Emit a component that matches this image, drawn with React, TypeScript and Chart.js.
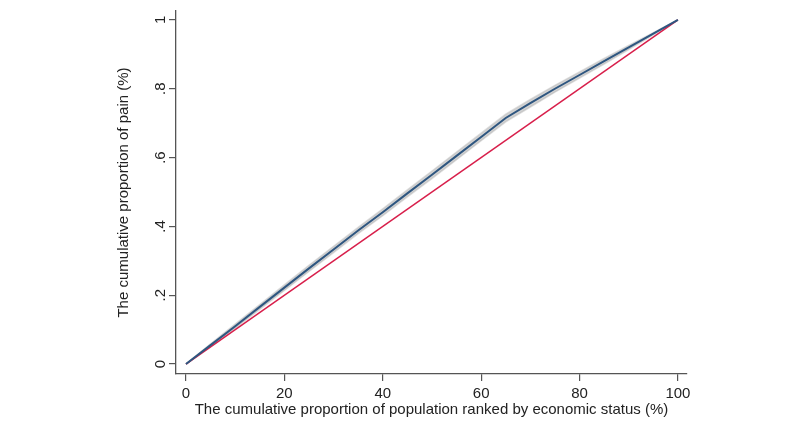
import React, { useEffect, useRef } from "react";
import { Chart, registerables } from "chart.js";

Chart.register(...registerables);

// Cumulative share of the population, ranked by economic status (%)
const popShare = [0, 5, 10, 15, 20, 25, 30, 35, 40, 45, 50, 55, 60, 65, 70, 75, 80, 85, 90, 95, 100];
// Concentration curve: cumulative share of pain
const painShare = [0, 0.055, 0.11, 0.166, 0.222, 0.278, 0.333, 0.388, 0.441, 0.496, 0.55, 0.605, 0.66, 0.715, 0.758, 0.8, 0.84, 0.88, 0.92, 0.96, 1];
// 95% confidence band around the curve
const ciLow = [0, 0.051, 0.104, 0.159, 0.214, 0.269, 0.324, 0.379, 0.431, 0.486, 0.539, 0.594, 0.649, 0.704, 0.747, 0.79, 0.831, 0.872, 0.914, 0.957, 1];
const ciHigh = [0, 0.059, 0.116, 0.173, 0.23, 0.287, 0.342, 0.397, 0.451, 0.506, 0.561, 0.616, 0.671, 0.726, 0.769, 0.81, 0.849, 0.888, 0.926, 0.963, 1];
// Line of equality
const equalityX = [0, 100];
const equalityY = [0, 1];

const xTicks = [0, 20, 40, 60, 80, 100];
const yTicks = [0, 0.2, 0.4, 0.6, 0.8, 1];
const yTickLabels = ["0", ".2", ".4", ".6", ".8", "1"];

const xTitle = "The cumulative proportion of population ranked by economic status (%)";
const yTitle = "The cumulative proportion of pain (%)";

const FONT = "'Liberation Sans', Arial, Helvetica, sans-serif";
const AXIS = "#555555";
const TEXT = "#222222";

const pts = (xs: number[], ys: number[]) => xs.map((x, i) => ({ x, y: ys[i] }));

export default function App() {
  const ref = useRef<HTMLCanvasElement | null>(null);

  useEffect(() => {
    if (!ref.current) return;
    const chart = new Chart(ref.current, {
      type: "line",
      data: {
        datasets: [
          {
            label: "Concentration curve",
            data: pts(popShare, painShare),
            borderColor: "#2e5680",
            borderWidth: 2,
            pointRadius: 0,
            tension: 0,
            fill: false,
          },
          {
            label: "Line of equality",
            data: pts(equalityX, equalityY),
            borderColor: "#d81f4b",
            borderWidth: 1.5,
            pointRadius: 0,
            fill: false,
          },
          {
            label: "CI upper",
            data: pts(popShare, ciHigh),
            borderColor: "rgba(190,190,190,0.5)",
            borderWidth: 1.5,
            backgroundColor: "rgba(165,165,165,0.5)",
            pointRadius: 0,
            fill: "+1",
          },
          {
            label: "CI lower",
            data: pts(popShare, ciLow),
            borderColor: "rgba(190,190,190,0.5)",
            borderWidth: 1.5,
            pointRadius: 0,
            fill: false,
          },
        ],
      },
      options: {
        animation: false,
        responsive: false,
        events: [],
        layout: { padding: { top: 8, right: 113, left: 0, bottom: 0 } },
        plugins: {
          legend: { display: false },
          tooltip: { enabled: false },
        },
        scales: {
          x: {
            type: "linear",
            min: -2.03,
            max: 101.85,
            afterBuildTicks: (s: any) => {
              s.ticks = xTicks.map((v) => ({ value: v }));
            },
            afterFit: (s: any) => {
              s.height = 50;
            },
            grid: {
              display: true,
              drawOnChartArea: false,
              drawTicks: true,
              tickLength: 7,
              color: AXIS,
              lineWidth: 1.2,
            },
            border: { display: true, color: AXIS, width: 1.3 },
            ticks: {
              color: TEXT,
              font: { family: FONT, size: 15 },
              padding: 4,
              maxRotation: 0,
              minRotation: 0,
              callback: (v: any) => String(v),
            },
            title: {
              display: true,
              text: xTitle,
              color: TEXT,
              font: { family: FONT, size: 15 },
              padding: { top: 0, bottom: 5 },
            },
          },
          y: {
            type: "linear",
            min: -0.029,
            max: 1.026,
            afterBuildTicks: (s: any) => {
              s.ticks = yTicks.map((v) => ({ value: v }));
            },
            afterFit: (s: any) => {
              s.width = 176;
            },
            grid: {
              display: true,
              drawOnChartArea: false,
              drawTicks: true,
              tickLength: 7,
              color: AXIS,
              lineWidth: 1.2,
            },
            border: { display: true, color: AXIS, width: 1.3 },
            ticks: {
              color: TEXT,
              font: { family: FONT, size: 15 },
              padding: 2,
              minRotation: 90,
              maxRotation: 90,
              crossAlign: "center",
              callback: (v: any) => {
                const i = yTicks.findIndex((t) => Math.abs(t - Number(v)) < 1e-9);
                return i >= 0 ? yTickLabels[i] : "";
              },
            },
            title: {
              display: true,
              text: yTitle,
              color: TEXT,
              font: { family: FONT, size: 15 },
              padding: { top: 115, bottom: 0 },
            },
          },
        },
      },
    } as any);
    return () => chart.destroy();
  }, []);

  return (
    <div style={{ position: "fixed", left: 0, top: 0, width: 800, height: 424, background: "#ffffff" }}>
      <canvas ref={ref} width={800} height={424} style={{ display: "block" }} />
    </div>
  );
}
